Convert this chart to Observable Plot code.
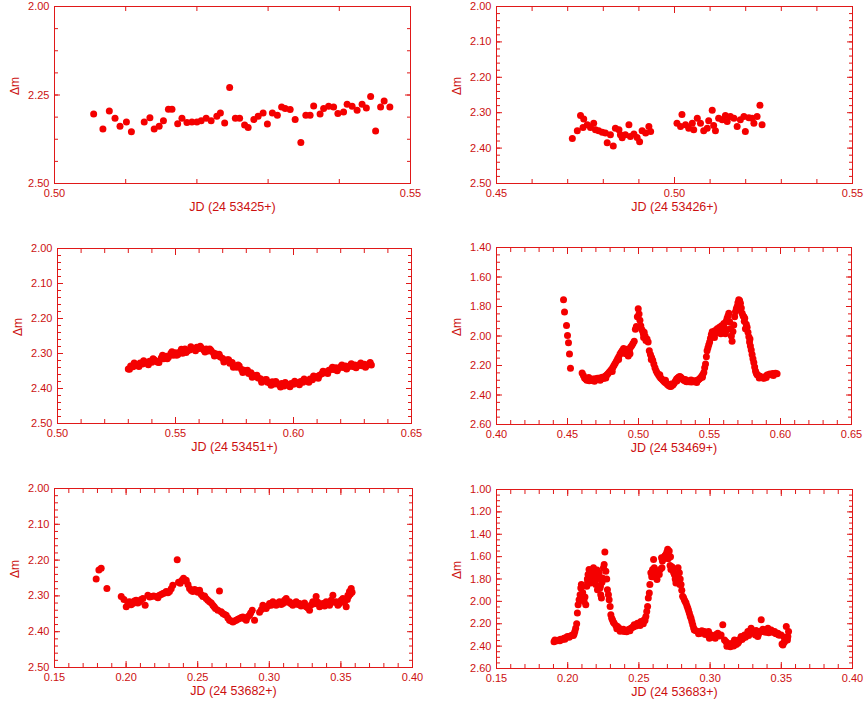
<!DOCTYPE html>
<html><head><meta charset="utf-8">
<script src="https://cdn.jsdelivr.net/npm/d3@7"></script>
<script src="https://cdn.jsdelivr.net/npm/@observablehq/plot@0.6"></script>
<style>
body{margin:0;background:#fff;}
#fig{position:relative;width:866px;height:708px;background:#fff;overflow:hidden;}
.panel{position:absolute;}
</style></head><body><div id="fig"></div>
<script>
// ---- data: [JD fraction, Δm] ----
const lc53425 = [[0.5055,2.304],[0.5068,2.346],[0.5077,2.295],[0.5085,2.316],[0.5092,2.338],[0.5101,2.326],[0.5108,2.354],[0.5126,2.326],[0.5134,2.314],[0.5140,2.346],[0.5147,2.338],[0.5153,2.323],[0.5160,2.290],[0.5165,2.290],[0.5173,2.331],[0.5179,2.316],[0.5186,2.328],[0.5193,2.326],[0.5200,2.326],[0.5206,2.323],[0.5213,2.316],[0.5220,2.323],[0.5228,2.310],[0.5233,2.301],[0.5239,2.329],[0.5246,2.229],[0.5254,2.316],[0.5260,2.316],[0.5267,2.335],[0.5272,2.342],[0.5280,2.319],[0.5286,2.310],[0.5293,2.301],[0.5299,2.332],[0.5306,2.301],[0.5313,2.307],[0.5319,2.284],[0.5324,2.288],[0.5331,2.291],[0.5338,2.319],[0.5346,2.384],[0.5353,2.307],[0.5359,2.307],[0.5364,2.281],[0.5373,2.304],[0.5378,2.288],[0.5385,2.282],[0.5392,2.284],[0.5398,2.302],[0.5406,2.298],[0.5411,2.276],[0.5418,2.282],[0.5425,2.293],[0.5432,2.276],[0.5438,2.287],[0.5444,2.254],[0.5451,2.352],[0.5458,2.284],[0.5463,2.267],[0.5471,2.284]];

const lc53426 = [[0.4713,2.373],[0.4727,2.351],[0.4736,2.308],[0.4745,2.318],[0.4743,2.342],[0.4755,2.334],[0.4764,2.342],[0.4773,2.330],[0.4778,2.348],[0.4787,2.351],[0.4797,2.355],[0.4806,2.357],[0.4811,2.385],[0.4820,2.362],[0.4828,2.394],[0.4834,2.344],[0.4844,2.348],[0.4848,2.362],[0.4853,2.371],[0.4862,2.362],[0.4872,2.334],[0.4876,2.367],[0.4886,2.360],[0.4895,2.370],[0.4902,2.382],[0.4909,2.351],[0.4919,2.357],[0.4928,2.339],[0.4933,2.353],[0.5007,2.330],[0.5021,2.305],[0.5017,2.339],[0.5031,2.334],[0.5040,2.344],[0.5050,2.330],[0.5054,2.348],[0.5064,2.316],[0.5073,2.330],[0.5082,2.351],[0.5092,2.344],[0.5096,2.323],[0.5106,2.293],[0.5110,2.336],[0.5115,2.351],[0.5124,2.316],[0.5134,2.320],[0.5143,2.308],[0.5148,2.325],[0.5157,2.311],[0.5167,2.316],[0.5176,2.339],[0.5185,2.320],[0.5195,2.311],[0.5199,2.353],[0.5209,2.314],[0.5218,2.316],[0.5223,2.330],[0.5232,2.311],[0.5240,2.279],[0.5246,2.334]];

const lc53451 = [[0.530,2.344],[0.531,2.336],[0.532,2.338],[0.533,2.331],[0.534,2.334],[0.535,2.327],[0.536,2.330],[0.537,2.324],[0.538,2.328],[0.539,2.322],[0.540,2.325],[0.541,2.318],[0.542,2.322],[0.543,2.326],[0.544,2.312],[0.545,2.315],[0.546,2.308],[0.547,2.311],[0.548,2.300],[0.549,2.305],[0.550,2.298],[0.551,2.303],[0.552,2.294],[0.553,2.299],[0.554,2.287],[0.555,2.293],[0.556,2.290],[0.557,2.284],[0.558,2.288],[0.559,2.282],[0.560,2.286],[0.561,2.284],[0.562,2.290],[0.563,2.287],[0.564,2.293],[0.565,2.291],[0.566,2.298],[0.567,2.301],[0.568,2.306],[0.569,2.310],[0.570,2.314],[0.571,2.320],[0.572,2.318],[0.573,2.328],[0.574,2.326],[0.575,2.335],[0.576,2.339],[0.577,2.336],[0.578,2.346],[0.579,2.348],[0.580,2.352],[0.581,2.357],[0.582,2.355],[0.583,2.363],[0.584,2.366],[0.585,2.370],[0.586,2.372],[0.587,2.377],[0.588,2.375],[0.589,2.382],[0.590,2.384],[0.591,2.381],[0.592,2.387],[0.593,2.385],[0.594,2.390],[0.595,2.386],[0.596,2.393],[0.597,2.388],[0.598,2.390],[0.599,2.386],[0.600,2.388],[0.601,2.383],[0.602,2.386],[0.603,2.380],[0.604,2.382],[0.605,2.377],[0.606,2.379],[0.607,2.373],[0.608,2.375],[0.609,2.369],[0.610,2.366],[0.611,2.362],[0.612,2.358],[0.613,2.355],[0.614,2.352],[0.615,2.348],[0.616,2.345],[0.617,2.346],[0.618,2.341],[0.619,2.343],[0.620,2.338],[0.621,2.340],[0.622,2.336],[0.623,2.339],[0.624,2.334],[0.625,2.337],[0.626,2.333],[0.627,2.336],[0.628,2.332],[0.629,2.335],[0.630,2.331],[0.631,2.334],[0.632,2.330],[0.633,2.333],
[0.5305,2.345],[0.5325,2.327],[0.5345,2.337],[0.5365,2.321],[0.5385,2.332],[0.5405,2.315],[0.5425,2.325],[0.5445,2.305],[0.5465,2.315],[0.5485,2.295],[0.5505,2.305],[0.5525,2.288],[0.5545,2.297],[0.5565,2.281],[0.5585,2.292],[0.5605,2.279],[0.5625,2.296],[0.5645,2.287],[0.5665,2.307],[0.5685,2.302],[0.5705,2.324],[0.5725,2.318],[0.5745,2.339],[0.5765,2.333],[0.5785,2.354],[0.5805,2.348],[0.5825,2.368],[0.5845,2.362],[0.5865,2.382],[0.5885,2.374],[0.5905,2.391],[0.5925,2.380],[0.5945,2.396],[0.5965,2.383],[0.5985,2.395],[0.6005,2.379],[0.6025,2.389],[0.6045,2.373],[0.6065,2.382],[0.6085,2.364],[0.6105,2.371],[0.6125,2.351],[0.6145,2.357],[0.6165,2.339],[0.6185,2.349],[0.6205,2.333],[0.6225,2.344],[0.6245,2.329],[0.6265,2.341],[0.6285,2.327],[0.6305,2.339],[0.6325,2.326]];

const lc53469 = [[0.4472,1.754],[0.4479,1.838],[0.4493,1.928],[0.4500,1.997],[0.4507,2.046],[0.4514,2.122],[0.4521,2.219],[0.4603,2.250],[0.4612,2.268],[0.4620,2.284],[0.4628,2.292],[0.4636,2.300],[0.4645,2.294],[0.4653,2.303],[0.4661,2.296],[0.4670,2.302],[0.4678,2.292],[0.4686,2.299],[0.4695,2.290],[0.4703,2.297],[0.4711,2.286],[0.4720,2.293],[0.4728,2.284],[0.4736,2.291],[0.4745,2.280],[0.4753,2.288],[0.4761,2.276],[0.4770,2.270],[0.4778,2.262],[0.4786,2.255],[0.4795,2.244],[0.4803,2.236],[0.4811,2.226],[0.4820,2.212],[0.4828,2.198],[0.4836,2.185],[0.4845,2.170],[0.4853,2.155],[0.4861,2.140],[0.4870,2.122],[0.4878,2.110],[0.4886,2.098],[0.4895,2.085],[0.4903,2.102],[0.4911,2.120],[0.4920,2.090],[0.4928,2.135],[0.4936,2.100],[0.4945,2.075],[0.4953,2.065],[0.4961,2.050],[0.4970,2.035],[0.4978,1.955],[0.4985,1.935],[0.4992,1.870],[0.4998,1.815],[0.5004,1.850],[0.5010,1.893],[0.5016,1.930],[0.5022,1.955],[0.5028,1.965],[0.5034,1.985],[0.5040,1.975],[0.5046,2.000],[0.5052,2.030],[0.5060,2.020],[0.5068,2.040],[0.5076,2.100],[0.5084,2.125],[0.5092,2.145],[0.5100,2.165],[0.5108,2.190],[0.5116,2.215],[0.5124,2.235],[0.5132,2.250],[0.5140,2.262],[0.5148,2.275],[0.5156,2.285],[0.5164,2.292],[0.5172,2.300],[0.5180,2.308],[0.5188,2.315],[0.5196,2.320],[0.5204,2.328],[0.5212,2.335],[0.5220,2.340],[0.5228,2.343],[0.5236,2.336],[0.5244,2.330],[0.5252,2.318],[0.5260,2.305],[0.5268,2.292],[0.5276,2.284],[0.5284,2.278],[0.5292,2.275],[0.5300,2.282],[0.5308,2.290],[0.5316,2.298],[0.5324,2.302],[0.5332,2.306],[0.5340,2.310],[0.5348,2.304],[0.5356,2.311],[0.5364,2.306],[0.5372,2.312],[0.5380,2.305],[0.5388,2.310],[0.5396,2.303],[0.5404,2.308],[0.5412,2.302],[0.5420,2.298],[0.5428,2.292],[0.5436,2.285],[0.5444,2.275],[0.5452,2.262],[0.5460,2.248],[0.5466,2.215],[0.5472,2.190],[0.5478,2.140],[0.5483,2.100],[0.5489,2.080],[0.5495,2.060],[0.5501,2.040],[0.5507,2.015],[0.5513,1.990],[0.5519,1.972],[0.5525,1.985],[0.5530,1.998],[0.5537,1.965],[0.5545,1.980],[0.5554,1.950],[0.5562,1.970],[0.5570,1.940],[0.5577,1.955],[0.5585,1.930],[0.5593,1.960],[0.5601,1.915],[0.5606,1.945],[0.5612,1.985],[0.5618,1.900],[0.5624,1.880],[0.5630,1.865],[0.5636,1.845],[0.5642,1.905],[0.5648,1.950],[0.5654,2.000],[0.5659,2.035],[0.5665,1.970],[0.5671,1.925],[0.5677,1.870],[0.5683,1.835],[0.5689,1.815],[0.5695,1.800],[0.5700,1.775],[0.5706,1.755],[0.5712,1.760],[0.5718,1.778],[0.5724,1.810],[0.5730,1.845],[0.5736,1.862],[0.5742,1.870],[0.5748,1.880],[0.5753,1.950],[0.5759,1.920],[0.5765,1.940],[0.5771,1.975],[0.5777,2.005],[0.5782,2.040],[0.5788,2.068],[0.5794,2.095],[0.5800,2.125],[0.5806,2.155],[0.5812,2.180],[0.5818,2.210],[0.5824,2.238],[0.5830,2.252],[0.5835,2.262],[0.5845,2.268],[0.5855,2.273],[0.5865,2.278],[0.5875,2.284],[0.5885,2.286],[0.5895,2.275],[0.5905,2.265],[0.5915,2.262],[0.5925,2.258],[0.5935,2.263],[0.5945,2.255],[0.5955,2.258],[0.5965,2.252],[0.5976,2.256],
[0.4650,2.282],[0.4690,2.306],[0.4730,2.300],[0.4770,2.285],[0.4815,2.240],[0.4860,2.160],[0.4900,2.115],[0.4940,2.120],[0.5036,2.010],[0.5090,2.160],[0.5150,2.262],[0.5190,2.300],[0.5230,2.325],[0.5270,2.305],[0.5330,2.295],[0.5370,2.298],[0.5410,2.315],[0.5450,2.280],[0.5535,2.010],[0.5580,1.985],[0.5620,1.960],[0.5700,1.820],[0.5745,1.900],[0.5785,2.020],[0.5850,2.285],[0.5900,2.282],[0.5950,2.268]];

const lc53682 = [[0.1791,2.253],[0.1810,2.228],[0.1826,2.223],[0.1866,2.279],[0.1966,2.302],[0.1985,2.310],[0.2001,2.330],[0.2012,2.318],[0.2024,2.316],[0.2035,2.325],[0.2047,2.321],[0.2058,2.314],[0.2070,2.312],[0.2082,2.320],[0.2094,2.316],[0.2105,2.310],[0.2117,2.307],[0.2133,2.326],[0.2152,2.298],[0.2165,2.303],[0.2175,2.302],[0.2192,2.300],[0.2210,2.302],[0.2222,2.305],[0.2233,2.298],[0.2245,2.296],[0.2257,2.293],[0.2268,2.292],[0.2280,2.288],[0.2292,2.291],[0.2303,2.288],[0.2315,2.280],[0.2326,2.270],[0.2357,2.199],[0.2366,2.262],[0.2378,2.265],[0.2390,2.256],[0.2401,2.251],[0.2410,2.258],[0.2420,2.256],[0.2432,2.268],[0.2443,2.279],[0.2455,2.285],[0.2466,2.288],[0.2478,2.282],[0.2489,2.284],[0.2501,2.290],[0.2513,2.284],[0.2525,2.296],[0.2536,2.302],[0.2548,2.300],[0.2559,2.307],[0.2571,2.312],[0.2583,2.316],[0.2595,2.320],[0.2606,2.326],[0.2615,2.330],[0.2624,2.335],[0.2641,2.340],[0.2652,2.286],[0.2664,2.344],[0.2676,2.349],[0.2688,2.352],[0.2699,2.354],[0.2711,2.362],[0.2722,2.368],[0.2734,2.370],[0.2746,2.373],[0.2757,2.370],[0.2769,2.368],[0.2780,2.365],[0.2792,2.363],[0.2804,2.360],[0.2815,2.359],[0.2827,2.364],[0.2839,2.368],[0.2850,2.358],[0.2862,2.354],[0.2870,2.348],[0.2881,2.340],[0.2897,2.368],[0.2932,2.346],[0.2945,2.338],[0.2955,2.326],[0.2967,2.333],[0.2978,2.335],[0.2990,2.328],[0.3002,2.321],[0.3013,2.326],[0.3025,2.316],[0.3037,2.322],[0.3048,2.326],[0.3060,2.320],[0.3071,2.316],[0.3083,2.324],[0.3095,2.321],[0.3106,2.312],[0.3118,2.307],[0.3130,2.318],[0.3141,2.316],[0.3152,2.322],[0.3164,2.326],[0.3176,2.320],[0.3188,2.316],[0.3200,2.324],[0.3211,2.321],[0.3222,2.328],[0.3234,2.326],[0.3246,2.320],[0.3258,2.330],[0.3270,2.334],[0.3281,2.340],[0.3293,2.325],[0.3304,2.316],[0.3316,2.322],[0.3327,2.302],[0.3339,2.318],[0.3351,2.330],[0.3362,2.324],[0.3374,2.321],[0.3386,2.328],[0.3397,2.316],[0.3409,2.322],[0.3421,2.326],[0.3432,2.312],[0.3444,2.298],[0.3455,2.318],[0.3467,2.316],[0.3479,2.326],[0.3490,2.321],[0.3502,2.312],[0.3514,2.307],[0.3525,2.318],[0.3537,2.330],[0.3545,2.310],[0.3549,2.298],[0.3555,2.300],[0.3560,2.288],[0.3566,2.295],[0.3572,2.279],[0.3578,2.290]];

const lc53683 = [[0.1904,2.360],[0.1915,2.352],[0.1927,2.351],[0.1939,2.345],[0.1951,2.339],[0.1962,2.340],[0.1974,2.330],[0.1986,2.326],[0.1998,2.315],[0.2010,2.320],[0.2021,2.309],[0.2033,2.300],[0.2045,2.291],[0.2050,2.270],[0.2056,2.240],[0.2063,2.201],[0.2068,2.105],[0.2073,2.030],[0.2080,1.985],[0.2087,1.940],[0.2092,1.880],[0.2096,1.850],[0.2103,1.955],[0.2109,1.975],[0.2115,2.000],[0.2121,1.960],[0.2127,2.030],[0.2134,1.865],[0.2138,1.800],[0.2143,1.760],[0.2150,1.715],[0.2157,1.730],[0.2162,1.835],[0.2168,1.790],[0.2174,1.775],[0.2181,1.700],[0.2185,1.820],[0.2191,1.760],[0.2197,1.850],[0.2203,1.800],[0.2209,1.895],[0.2215,1.780],[0.2221,1.745],[0.2227,1.880],[0.2232,1.940],[0.2237,1.970],[0.2241,1.830],[0.2244,1.790],[0.2251,1.700],[0.2256,1.670],[0.2261,1.559],[0.2268,1.730],[0.2274,1.800],[0.2279,1.895],[0.2286,1.940],[0.2291,1.985],[0.2298,2.045],[0.2303,2.120],[0.2309,2.150],[0.2314,2.165],[0.2320,2.185],[0.2326,2.195],[0.2338,2.215],[0.2350,2.225],[0.2362,2.240],[0.2373,2.255],[0.2385,2.262],[0.2397,2.270],[0.2408,2.262],[0.2420,2.255],[0.2432,2.250],[0.2444,2.240],[0.2455,2.232],[0.2467,2.210],[0.2479,2.220],[0.2490,2.195],[0.2502,2.205],[0.2514,2.180],[0.2525,2.190],[0.2537,2.165],[0.2543,2.170],[0.2549,2.135],[0.2555,2.090],[0.2561,2.045],[0.2566,1.970],[0.2573,1.925],[0.2577,1.850],[0.2584,1.745],[0.2590,1.780],[0.2596,1.715],[0.2603,1.625],[0.2608,1.700],[0.2613,1.760],[0.2620,1.780],[0.2627,1.805],[0.2636,1.730],[0.2643,1.760],[0.2650,1.715],[0.2659,1.610],[0.2665,1.640],[0.2672,1.620],[0.2678,1.601],[0.2684,1.590],[0.2690,1.580],[0.2696,1.560],[0.2702,1.535],[0.2713,1.550],[0.2719,1.680],[0.2725,1.715],[0.2731,1.690],[0.2737,1.700],[0.2743,1.740],[0.2749,1.760],[0.2755,1.800],[0.2760,1.835],[0.2766,1.780],[0.2772,1.790],[0.2778,1.820],[0.2784,1.745],[0.2790,1.800],[0.2796,1.850],[0.2801,1.900],[0.2807,1.955],[0.2813,1.965],[0.2819,1.985],[0.2825,2.000],[0.2831,2.015],[0.2837,2.040],[0.2843,2.060],[0.2848,2.080],[0.2854,2.105],[0.2860,2.130],[0.2866,2.150],[0.2872,2.180],[0.2878,2.210],[0.2884,2.235],[0.2889,2.255],[0.2901,2.262],[0.2913,2.270],[0.2925,2.280],[0.2936,2.285],[0.2948,2.275],[0.2960,2.270],[0.2971,2.282],[0.2983,2.285],[0.2995,2.330],[0.3007,2.300],[0.3018,2.310],[0.3030,2.315],[0.3042,2.295],[0.3054,2.285],[0.3066,2.310],[0.3077,2.300],[0.3089,2.210],[0.3101,2.345],[0.3112,2.360],[0.3124,2.375],[0.3136,2.395],[0.3148,2.390],[0.3160,2.370],[0.3171,2.345],[0.3183,2.385],[0.3195,2.375],[0.3207,2.340],[0.3218,2.315],[0.3230,2.330],[0.3242,2.300],[0.3253,2.310],[0.3265,2.270],[0.3277,2.290],[0.3288,2.240],[0.3300,2.265],[0.3312,2.285],[0.3323,2.260],[0.3335,2.315],[0.3347,2.270],[0.3359,2.165],[0.3370,2.250],[0.3382,2.255],[0.3394,2.260],[0.3406,2.240],[0.3418,2.265],[0.3429,2.255],[0.3441,2.275],[0.3453,2.270],[0.3464,2.290],[0.3476,2.285],[0.3488,2.300],[0.3499,2.300],[0.3511,2.390],[0.3517,2.370],[0.3523,2.360],[0.3529,2.340],[0.3535,2.225],[0.3540,2.330],[0.3546,2.315],[0.3551,2.270],
[0.1910,2.345],[0.1945,2.352],[0.1980,2.338],[0.2015,2.312],[0.2040,2.305],[0.2345,2.245],[0.2368,2.268],[0.2391,2.250],[0.2414,2.272],[0.2437,2.262],[0.2461,2.228],[0.2484,2.210],[0.2508,2.215],[0.2531,2.200],[0.2919,2.290],[0.2942,2.262],[0.2966,2.295],[0.2989,2.270],[0.3012,2.320],[0.3036,2.330],[0.3060,2.300],[0.3118,2.400],[0.3130,2.385],[0.3142,2.405],[0.3154,2.380],[0.3165,2.398],[0.3177,2.365],[0.3189,2.350],[0.3201,2.360],[0.3224,2.340],[0.3248,2.320],[0.3271,2.305],[0.3294,2.280],[0.3318,2.300],[0.3341,2.290],[0.3365,2.270],[0.3388,2.275],[0.3412,2.280],[0.3435,2.268],[0.3458,2.285],[0.3482,2.300],[0.3505,2.380],[0.3520,2.320],[0.3543,2.345],[0.2105,1.920],[0.2140,1.830],[0.2178,1.740],[0.2206,1.720],[0.2230,1.860],[0.2600,1.780],[0.2632,1.750],[0.2662,1.700],[0.2706,1.620],[0.2722,1.600],[0.2775,1.700],[0.2787,1.850]];

// ---- tick labels / titles ----
const titles = ["JD (24 53425+)", "JD (24 53426+)", "JD (24 53451+)", "JD (24 53469+)", "JD (24 53682+)", "JD (24 53683+)"];
const yTitle = "Δm";
const xTicks1 = [0.50, 0.55];
const xTicks2 = [0.45, 0.50, 0.55];
const xTicks3 = [0.50, 0.55, 0.60, 0.65];
const xTicks4 = [0.40, 0.45, 0.50, 0.55, 0.60, 0.65];
const xTicks5 = [0.15, 0.20, 0.25, 0.30, 0.35, 0.40];
const yTicksA = [2.00, 2.25, 2.50];
const yTicksB = [2.00, 2.10, 2.20, 2.30, 2.40, 2.50];
const yTicksC = [1.40, 1.60, 1.80, 2.00, 2.20, 2.40, 2.60];
const yTicksD = [1.00, 1.20, 1.40, 1.60, 1.80, 2.00, 2.20, 2.40, 2.60];

// ---- styling ----
const LINE = "#e01818", TEXT = "#cc1010", DOT = "#f40000";
const fmt = d3.format(".2f");
const minors = (a, b, s) => d3.range(Math.round((b - a) / s) + 1).map(i => +(a + i * s).toFixed(5));

const panels = [
  {data: lc53425, left: 0,   top: 0,   h: 225, mt: 6,  fh: 177, ml: 54, mr: 23, xd: [0.50, 0.55], yd: [2.00, 2.50], xT: xTicks1, yT: yTicksA, xs: 0.01, ys: 0.0625, title: titles[0]},
  {data: lc53426, left: 433, top: 0,   h: 225, mt: 6,  fh: 177, ml: 63, mr: 14, xd: [0.45, 0.55], yd: [2.00, 2.50], xT: xTicks2, yT: yTicksB, xs: 0.01, ys: 0.02, title: titles[1]},
  {data: lc53451, left: 0,   top: 235, h: 230, mt: 13, fh: 175, ml: 57, mr: 22, xd: [0.50, 0.65], yd: [2.00, 2.50], xT: xTicks3, yT: yTicksB, xs: 0.01, ys: 0.02, title: titles[2]},
  {data: lc53469, left: 433, top: 235, h: 230, mt: 12, fh: 177, ml: 63, mr: 15, xd: [0.40, 0.65], yd: [1.40, 2.60], xT: xTicks4, yT: yTicksC, xs: 0.01, ys: 0.05, title: titles[3]},
  {data: lc53682, left: 0,   top: 470, h: 238, mt: 18, fh: 179, ml: 54, mr: 21, xd: [0.15, 0.40], yd: [2.00, 2.50], xT: xTicks5, yT: yTicksB, xs: 0.01, ys: 0.02, title: titles[4]},
  {data: lc53683, left: 433, top: 470, h: 238, mt: 19, fh: 179, ml: 63, mr: 14, xd: [0.15, 0.40], yd: [1.00, 2.60], xT: xTicks5, yT: yTicksD, xs: 0.01, ys: 0.05, title: titles[5]}
];

const fig = document.getElementById("fig");
for (const p of panels) {
  const xMin = minors(p.xd[0], p.xd[1], p.xs);
  const yMin = minors(p.yd[0], p.yd[1], p.ys);
  const tickAxes = (ticks, size) => [
    Plot.axisX({ticks, anchor: "bottom", tickSize: size, dy: -size, fill: "none", label: null, stroke: LINE}),
    Plot.axisX({ticks, anchor: "top", tickSize: size, dy: size, fill: "none", label: null, stroke: LINE})
  ];
  const tickAxesY = (ticks, size) => [
    Plot.axisY({ticks, anchor: "left", tickSize: size, dx: size, fill: "none", label: null, stroke: LINE}),
    Plot.axisY({ticks, anchor: "right", tickSize: size, dx: -size, fill: "none", label: null, stroke: LINE})
  ];
  const chart = Plot.plot({
    width: 433,
    height: p.h,
    marginTop: p.mt,
    marginBottom: p.h - p.mt - p.fh,
    marginLeft: p.ml,
    marginRight: p.mr,
    style: {fontFamily: "'Liberation Sans', Arial, sans-serif", fontSize: "11px", color: TEXT, background: "transparent", overflow: "visible"},
    x: {domain: p.xd},
    y: {domain: p.yd, reverse: true},
    marks: [
      Plot.dot(p.data, {x: d => d[0], y: d => d[1], r: 3.5, fill: DOT, stroke: "none"}),
      Plot.frame({stroke: LINE, strokeWidth: 1}),
      ...tickAxes(xMin, 4),
      ...tickAxes(p.xT, 6),
      ...tickAxesY(yMin, 4),
      ...tickAxesY(p.yT, 6),
      Plot.axisX({ticks: p.xT, anchor: "bottom", tickSize: 0, tickPadding: 6, tickFormat: fmt, label: null, fill: TEXT, fontSize: 11}),
      Plot.axisY({ticks: p.yT, anchor: "left", tickSize: 0, tickPadding: 5, tickFormat: fmt, label: null, fill: TEXT, fontSize: 11}),
      Plot.text([p.title], {frameAnchor: "bottom", dy: 27, text: d => d, fill: TEXT, fontSize: 12.5}),
      Plot.text([yTitle], {frameAnchor: "left", dx: -39, rotate: -90, text: d => d, fill: TEXT, fontSize: 12})
    ]
  });
  const div = document.createElement("div");
  div.className = "panel";
  div.style.left = p.left + "px";
  div.style.top = p.top + "px";
  div.appendChild(chart);
  fig.appendChild(div);
}
</script>
</body></html>
